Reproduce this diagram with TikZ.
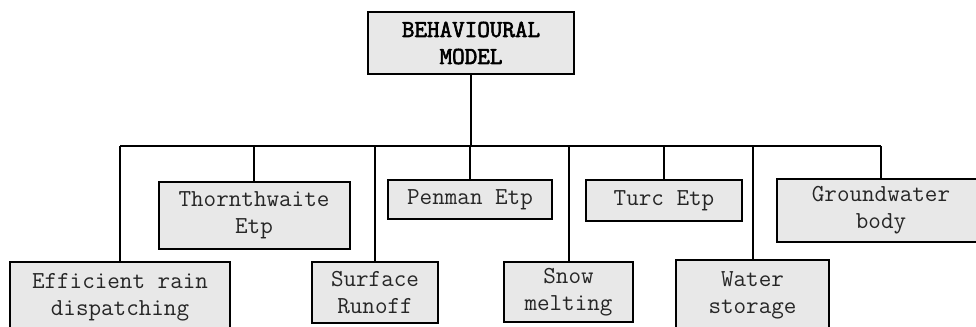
\documentclass[tikz,border=0pt]{standalone}
\usepackage{fontspec}
\newfontfamily\boldmono{Latin Modern Mono}[FakeBold=2.5]
\begin{document}
\begin{tikzpicture}[x=0.5pt,y=-0.5pt,
  box/.style={draw=black, line width=1pt, fill=gray!18, align=center, inner sep=0pt,
    text=black!85, font=\ttfamily\fontsize{12.2}{13.5}\selectfont},
  link/.style={draw=black, line width=1pt}]
\useasboundingbox (0,0) rectangle (976,327);
\clip (0,0) rectangle (976,327);
\node[box, text=black, font=\boldmono\fontsize{12.2}{13.5}\selectfont, minimum width=103pt, minimum height=31pt] (top) at (471,43) {BEHAVIOURAL\\MODEL};
\node[box, minimum width=110pt, minimum height=35pt] (eff) at (120,297) {Efficient rain\\dispatching};
\node[box, minimum width=95.5pt, minimum height=33.5pt] (thorn) at (254,215.5) {Thornthwaite\\Etp};
\node[box, minimum width=63pt, minimum height=30.5pt] (surf) at (375,292.5) {Surface\\Runoff};
\node[box, minimum width=82pt, minimum height=19.5pt] (pen) at (470,199.5) {Penman Etp};
\node[box, minimum width=64.5pt, minimum height=30pt] (snow) at (568.5,292) {Snow\\melting};
\node[box, minimum width=78pt, minimum height=20.5pt] (turc) at (664,200.5) {Turc Etp};
\node[box, minimum width=76.5pt, minimum height=35pt] (water) at (752.5,295) {Water\\storage};
\node[box, minimum width=104pt, minimum height=31.5pt] (ground) at (881,210.5) {Groundwater\\body};
\coordinate (bus) at (471,146);
\draw[link] (top.south) -- (top.south |- bus);
\draw[link] (eff.north |- bus) -- (ground.north |- bus);
\foreach \n in {eff,thorn,surf,pen,snow,turc,water,ground}
  \draw[link] (\n.north) -- (\n.north |- bus);
\end{tikzpicture}
\end{document}
